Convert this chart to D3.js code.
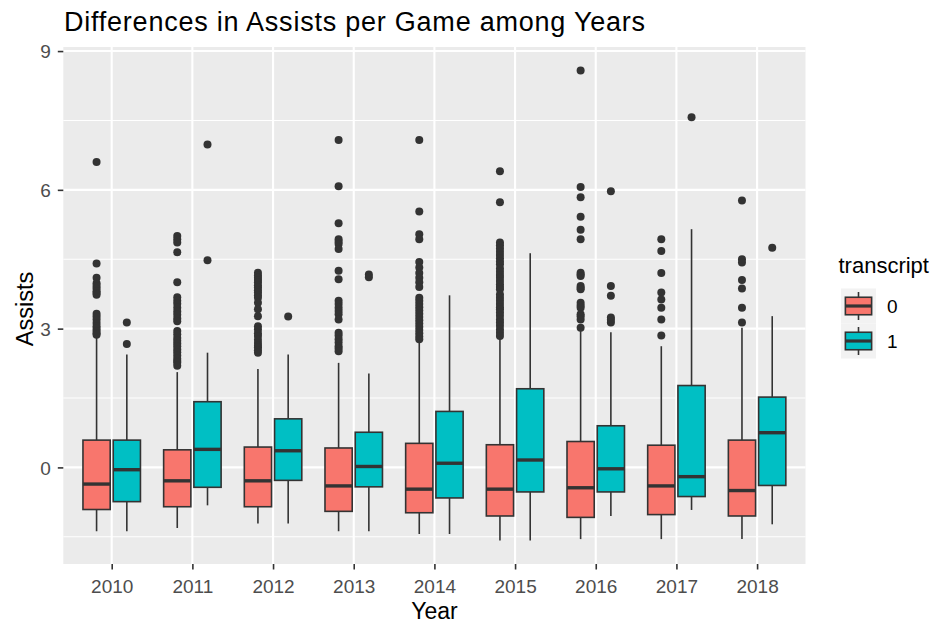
<!DOCTYPE html>
<html>
<head>
<meta charset="utf-8">
<script src="https://cdn.jsdelivr.net/npm/d3@7"></script>
<style>
  html, body { margin: 0; padding: 0; background: #fff; }
  svg { display: block; font-family: "Liberation Sans", Arial, sans-serif; }
</style>
</head>
<body>
<svg id="chart" width="940" height="624"></svg>
<script>
// Years on the x axis
const years = ["2010", "2011", "2012", "2013", "2014", "2015", "2016", "2017", "2018"];
const groups = ["0", "1"];

// transcript = 0 : box statistics per year
const lo0  = [-1.38, -1.31, -1.21, -1.38, -1.44, -1.58, -1.55, -1.55, -1.55];
const q10  = [-0.91, -0.85, -0.85, -0.95, -0.98, -1.05, -1.08, -1.02, -1.05];
const med0 = [-0.36, -0.29, -0.29, -0.40, -0.47, -0.47, -0.44, -0.40, -0.50];
const q30  = [ 0.59,  0.38,  0.44,  0.42,  0.52,  0.49,  0.56,  0.48,  0.59];
const hi0  = [ 2.82,  2.06,  2.13,  2.26,  2.73,  2.78,  2.95,  2.62,  3.02];
const out0 = [
  [6.6, 4.41, 4.1, 3.98, 3.92, 3.87, 3.81, 3.77, 3.73, 3.32, 3.26, 3.2, 3.12, 3.05, 3.0, 2.95, 2.9, 2.87],
  [5.0, 4.93, 4.86, 4.65, 4.0, 3.68, 3.6, 3.54, 3.45, 3.37, 3.3, 3.22, 3.16, 2.95, 2.88, 2.8, 2.74, 2.68, 2.62, 2.55, 2.49, 2.42, 2.35, 2.3, 2.26, 2.2],
  [4.21, 4.15, 4.1, 4.05, 4.0, 3.94, 3.89, 3.83, 3.78, 3.72, 3.67, 3.56, 3.42, 3.27, 3.05, 2.98, 2.9, 2.84, 2.76, 2.69, 2.63, 2.59, 2.53, 2.48],
  [7.08, 6.08, 5.28, 4.93, 4.88, 4.83, 4.72, 4.25, 4.07, 3.6, 3.53, 3.45, 3.38, 3.31, 3.2, 2.91, 2.85, 2.77, 2.7, 2.62, 2.57, 2.51],
  [7.08, 5.53, 5.04, 4.93, 4.44, 4.32, 4.2, 4.1, 4.0, 3.9, 3.67, 3.6, 3.53, 3.46, 3.39, 3.32, 3.25, 3.18, 3.11, 3.04, 2.97, 2.9, 2.83, 2.77],
  [6.4, 5.73, 4.86, 4.8, 4.73, 4.66, 4.59, 4.52, 4.45, 4.39, 4.3, 4.23, 4.16, 4.1, 4.03, 3.96, 3.9, 3.85, 3.74, 3.67, 3.6, 3.53, 3.46, 3.42, 3.35, 3.28, 3.2, 3.13, 3.06, 2.98, 2.91, 2.84],
  [8.58, 6.06, 5.84, 5.42, 5.14, 4.93, 4.21, 4.17, 4.14, 3.92, 3.88, 3.85, 3.56, 3.5, 3.45, 3.31, 3.27, 3.2, 3.02],
  [4.93, 4.68, 4.2, 3.78, 3.63, 3.45, 3.2, 2.85],
  [5.77, 4.5, 4.43, 4.05, 3.87, 3.45, 3.13]
];

// transcript = 1 : box statistics per year
const lo1  = [-1.38, -0.82, -1.21, -1.38, -1.44, -1.58, -1.05, -0.92, -1.23];
const q11  = [-0.74, -0.43, -0.28, -0.42, -0.66, -0.53, -0.53, -0.63, -0.39];
const med1 = [-0.05,  0.39,  0.36,  0.02,  0.09,  0.16, -0.03, -0.20,  0.75];
const q31  = [ 0.59,  1.42,  1.05,  0.76,  1.21,  1.70,  0.90,  1.77,  1.52];
const hi1  = [ 2.44,  2.48,  2.44,  2.03,  3.72,  4.63,  2.92,  5.15,  3.27];
const out1 = [
  [3.13, 2.67],
  [6.98, 4.48],
  [3.26],
  [4.17, 4.11],
  [],
  [],
  [5.97, 3.92, 3.71, 3.24, 3.19, 3.13],
  [7.57],
  [4.75]
];

const yMajor = [0, 3, 6, 9];
const yMinor = [-1.5, 1.5, 4.5, 7.5];
const fills = { "0": "#F8766D", "1": "#00BFC4" };

// Assemble one record per box
const boxes = [];
years.forEach((yr, i) => {
  boxes.push({ year: yr, g: "0", lo: lo0[i], q1: q10[i], med: med0[i], q3: q30[i], hi: hi0[i], out: out0[i] });
  boxes.push({ year: yr, g: "1", lo: lo1[i], q1: q11[i], med: med1[i], q3: q31[i], hi: hi1[i], out: out1[i] });
});

const svg = d3.select("#chart");
const P = { left: 63.3, right: 805.5, top: 47, bottom: 564 };
const ink = "#333333";

// Scales: discrete x with 0.6 step padding, continuous y with 5% expansion
const x = d3.scalePoint().domain(years).range([P.left, P.right]).padding(0.6);
const step = x.step();
const allVals = boxes.flatMap(b => [b.lo, b.hi, ...b.out]);
const [vmin, vmax] = d3.extent(allVals);
const pad = (vmax - vmin) * 0.05;
const y = d3.scaleLinear().domain([vmin - pad, vmax + pad]).range([P.bottom, P.top]);

const boxW = step * 0.3375;
const dx = { "0": -step * 0.1875, "1": step * 0.1875 };

// Panel background and grid
svg.append("rect").attr("x", P.left).attr("y", P.top)
  .attr("width", P.right - P.left).attr("height", P.bottom - P.top).attr("fill", "#EBEBEB");

const grid = svg.append("g");
grid.selectAll("line.minor").data(yMinor).join("line")
  .attr("x1", P.left).attr("x2", P.right)
  .attr("y1", d => y(d)).attr("y2", d => y(d))
  .attr("stroke", "#fff").attr("stroke-width", 1.1);
grid.selectAll("line.majy").data(yMajor).join("line")
  .attr("x1", P.left).attr("x2", P.right)
  .attr("y1", d => y(d)).attr("y2", d => y(d))
  .attr("stroke", "#fff").attr("stroke-width", 2.1);
grid.selectAll("line.majx").data(years).join("line")
  .attr("x1", d => x(d)).attr("x2", d => x(d))
  .attr("y1", P.top).attr("y2", P.bottom)
  .attr("stroke", "#fff").attr("stroke-width", 2.1);

// Boxplots
const bg = svg.append("g").selectAll("g").data(boxes).join("g")
  .attr("transform", d => `translate(${x(d.year) + dx[d.g]},0)`);

bg.append("line").attr("x1", 0).attr("x2", 0)
  .attr("y1", d => y(d.q3)).attr("y2", d => y(d.hi))
  .attr("stroke", ink).attr("stroke-width", 1.6);
bg.append("line").attr("x1", 0).attr("x2", 0)
  .attr("y1", d => y(d.q1)).attr("y2", d => y(d.lo))
  .attr("stroke", ink).attr("stroke-width", 1.6);
bg.append("rect")
  .attr("x", -boxW / 2).attr("width", boxW)
  .attr("y", d => y(d.q3)).attr("height", d => y(d.q1) - y(d.q3))
  .attr("fill", d => fills[d.g]).attr("stroke", ink).attr("stroke-width", 1.6);
bg.append("line").attr("x1", -boxW / 2).attr("x2", boxW / 2)
  .attr("y1", d => y(d.med)).attr("y2", d => y(d.med))
  .attr("stroke", ink).attr("stroke-width", 3.4);
bg.selectAll("circle").data(d => d.out).join("circle")
  .attr("cx", 0).attr("cy", v => y(v)).attr("r", 4)
  .attr("fill", ink);

// Axes
const yAxis = d3.axisLeft(y).tickValues(yMajor).tickSize(5.5).tickPadding(7).tickFormat(d3.format("d"));
const gy = svg.append("g").attr("transform", `translate(${P.left},0)`).call(yAxis);
const xAxis = d3.axisBottom(x).tickSize(5.5).tickPadding(10);
const gx = svg.append("g").attr("transform", `translate(0,${P.bottom})`).call(xAxis);
[gy, gx].forEach(g => {
  g.select(".domain").remove();
  g.selectAll(".tick line").attr("stroke", ink).attr("stroke-width", 1.6);
  g.selectAll(".tick text").attr("fill", "#4D4D4D").attr("font-size", 19)
    .attr("font-family", "'Liberation Sans', Arial, sans-serif");
});
gy.selectAll(".tick text").attr("dy", "0.35em");
gx.selectAll(".tick text").attr("dy", "0.71em");

// Titles
svg.append("text").attr("x", 64).attr("y", 30.5)
  .attr("font-size", 27).attr("fill", "#000")
  .attr("textLength", 581).attr("lengthAdjust", "spacing")
  .text("Differences in Assists per Game among Years");
svg.append("text").attr("x", (P.left + P.right) / 2).attr("y", 619)
  .attr("text-anchor", "middle").attr("font-size", 23).attr("fill", "#000")
  .text("Year");
svg.append("text")
  .attr("transform", `translate(33,309) rotate(-90)`)
  .attr("text-anchor", "middle").attr("font-size", 23.5).attr("fill", "#000")
  .text("Assists");

// Legend
const L = { x: 841, y: 288.5, key: 35 };
const leg = svg.append("g");
leg.append("text").attr("x", 838.5).attr("y", 273)
  .attr("font-size", 22).attr("fill", "#000").text("transcript");
const keys = leg.selectAll("g.key").data(groups).join("g")
  .attr("transform", (d, i) => `translate(${L.x},${L.y + i * L.key})`);
keys.append("rect").attr("width", L.key).attr("height", L.key).attr("fill", "#F2F2F2");
keys.append("line").attr("x1", L.key / 2).attr("x2", L.key / 2)
  .attr("y1", L.key * 0.1).attr("y2", L.key * 0.9)
  .attr("stroke", ink).attr("stroke-width", 1.6);
keys.append("rect")
  .attr("x", L.key * 0.125).attr("width", L.key * 0.75)
  .attr("y", L.key * 0.25).attr("height", L.key * 0.5)
  .attr("fill", d => fills[d]).attr("stroke", ink).attr("stroke-width", 1.6);
keys.append("line").attr("x1", L.key * 0.125).attr("x2", L.key * 0.875)
  .attr("y1", L.key / 2).attr("y2", L.key / 2)
  .attr("stroke", ink).attr("stroke-width", 3.2);
keys.append("text").attr("x", L.key + 11).attr("y", L.key / 2).attr("dy", "0.35em")
  .attr("font-size", 19).attr("fill", "#000").text(d => d);
</script>
</body>
</html>
